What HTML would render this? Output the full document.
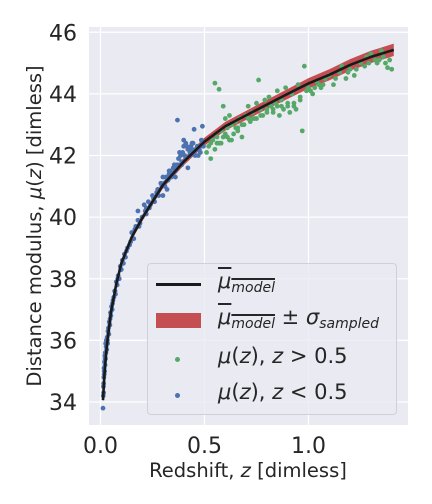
<!DOCTYPE html>
<html><head><meta charset="utf-8"><style>
body{margin:0;background:#fff;width:432px;height:504px;overflow:hidden;font-family:"Liberation Sans","DejaVu Sans",sans-serif;}
#wrap{position:relative;width:432px;height:504px;}
.lg{position:absolute;left:147px;top:263px;width:250px;height:152px;border:1px solid #d0d0d8;border-radius:4px;background:rgba(234,234,242,0.8);box-sizing:border-box;}
.lt{position:absolute;left:70px;font-size:21px;color:#262626;font-family:"DejaVu Sans",sans-serif;white-space:nowrap;}
.ov{text-decoration:overline;font-style:italic;}
i{font-style:italic;}
sub{font-size:14px;font-style:italic;vertical-align:-4px;}
</style></head><body><div id="wrap">
<svg id="svg" width="432" height="504" style="position:absolute;left:0;top:0"></svg>
<div class="lg">
 <div style="position:absolute;left:8px;top:19px;width:45px;height:3px;background:#1a1a1a"></div>
 <div class="lt" style="top:5px"><span class="ov">μ<sub>model</sub></span></div>
 <div style="position:absolute;left:8px;top:49px;width:45px;height:15px;background:#c44e52"></div>
 <div class="lt" style="top:41px"><span class="ov">μ<sub>model</sub></span> ± <i>σ</i><sub>sampled</sub></div>
 <div style="position:absolute;left:27px;top:93px;width:5px;height:5px;border-radius:50%;background:#55a868"></div>
 <div class="lt" style="top:80px"><i>μ</i>(<i>z</i>), <i>z</i> &gt; 0.5</div>
 <div style="position:absolute;left:27px;top:129px;width:5px;height:5px;border-radius:50%;background:#4c72b0"></div>
 <div class="lt" style="top:116px"><i>μ</i>(<i>z</i>), <i>z</i> &lt; 0.5</div>
</div>
</div>
<script>
const xTicks=[0.0,0.5,1.0];
const xTickLabels=["0.0","0.5","1.0"];
const yTicks=[34,36,38,40,42,44,46];
const yTickLabels=["34","36","38","40","42","44","46"];
const modelZ=[0.012,0.02,0.03,0.05,0.075,0.1,0.15,0.2,0.3,0.4,0.5,0.6,0.75,0.9,1.0,1.1,1.2,1.3,1.41];
const modelMu=[34.06,35.0,35.8,36.9,37.8,38.5,39.35,39.96,41.04,41.8,42.45,42.95,43.48,44.0,44.34,44.62,44.94,45.2,45.43];
const modelSigma=[0.08,0.08,0.08,0.09,0.09,0.1,0.1,0.1,0.11,0.12,0.13,0.14,0.15,0.16,0.17,0.18,0.19,0.2,0.2];
const lowZ=[0.012,0.013,0.014,0.015,0.016,0.017,0.018,0.019,0.02,0.021,0.022,0.023,0.024,0.025,0.026,0.028,0.03,0.032,0.034,0.036,0.038,0.04,0.042,0.045,0.048,0.05,0.053,0.056,0.06,0.064,0.068,0.072,0.076,0.08,0.085,0.09,0.095,0.1,0.105,0.11,0.115,0.12,0.13,0.14,0.15,0.16,0.17,0.18,0.19,0.2,0.21,0.22,0.23,0.24,0.25,0.26,0.27,0.28,0.29,0.3,0.31,0.32,0.33,0.34,0.35,0.36,0.37,0.38,0.39,0.4,0.41,0.42,0.43,0.44,0.45,0.46,0.47,0.48,0.49,0.37,0.45,0.49,0.4,0.42,0.3,0.33,0.22,0.18,0.44,0.47,
0.015,0.018,0.022,0.027,0.033,0.039,0.046,0.058,0.07,0.083,0.097,0.125,0.145,0.165,0.185,0.215,0.235,0.255,0.275,0.295,0.305,0.315,0.325,0.335,0.345,0.355,0.365,0.375,0.385,0.395,0.405,0.415,0.425,0.435,0.445,0.455,0.465,0.475,0.485,0.495,0.41,0.43,0.39,0.36,0.32];
const lowMu=[33.8,34.2,34.5,34.3,34.8,35.1,34.9,35.3,35.0,35.5,35.2,35.6,35.4,35.9,35.6,36.0,35.7,36.1,35.9,36.3,36.4,36.2,36.6,36.5,36.9,36.8,37.1,37.0,37.3,37.4,37.6,37.5,37.9,37.8,38.1,38.0,38.4,38.3,38.6,38.5,38.8,38.7,39.0,39.1,39.5,39.3,39.7,40.2,39.8,40.0,40.4,40.1,40.5,40.4,40.7,40.5,40.8,40.7,41.1,41.3,41.0,41.2,41.4,41.3,41.6,41.5,41.7,42.1,41.8,42.3,41.9,42.2,42.0,42.4,42.1,42.2,42.3,42.1,42.4,43.15,42.85,42.95,42.5,41.6,40.7,41.5,40.3,39.9,42.2,42.0,
34.6,35.0,35.4,35.8,36.0,36.2,36.7,37.2,37.6,38.0,38.3,38.9,39.2,39.6,39.7,40.2,40.3,40.6,40.9,41.0,41.1,41.3,41.2,41.5,41.4,41.7,41.6,41.9,42.0,42.1,42.0,42.3,42.2,42.3,42.4,42.0,42.3,42.2,42.5,42.3,42.4,42.1,41.7,41.3,40.9];
const highZ=[0.51,0.52,0.53,0.54,0.55,0.55,0.56,0.57,0.57,0.58,0.59,0.6,0.6,0.61,0.62,0.63,0.64,0.65,0.66,0.67,0.68,0.69,0.7,0.71,0.72,0.73,0.74,0.75,0.76,0.77,0.78,0.79,0.8,0.81,0.82,0.83,0.84,0.85,0.86,0.87,0.88,0.89,0.9,0.91,0.92,0.93,0.94,0.95,0.96,0.97,0.98,0.99,1.0,1.02,1.04,1.06,1.08,1.1,1.12,1.15,1.18,1.2,1.22,1.25,1.27,1.3,1.32,1.35,1.37,1.38,1.4,0.75,0.65,0.85,1.05,1.28,1.33,1.16,0.58,0.62,
0.53,0.56,0.59,0.61,0.63,0.66,0.68,0.71,0.73,0.77,0.8,0.83,0.87,0.9,0.93,0.96,1.01,1.03,1.07,1.13,1.19,1.23,1.29,1.34,1.36,1.39];
const highMu=[42.1,42.3,41.9,42.5,42.2,44.35,42.6,42.4,44.15,42.8,43.6,42.7,43.2,42.9,42.5,43.0,42.7,43.1,42.8,43.2,42.6,43.0,43.3,43.6,43.1,43.4,43.2,43.7,44.45,43.5,43.3,43.8,43.5,43.9,43.6,43.4,43.7,44.1,43.3,43.8,43.5,44.2,43.6,43.4,44.0,43.7,43.5,44.3,43.9,42.8,44.9,44.1,44.2,44.0,44.4,44.2,44.5,44.6,44.3,44.7,44.5,44.8,44.6,45.0,44.9,45.3,45.1,45.4,45.0,44.85,44.8,43.2,42.9,43.6,44.3,45.2,45.0,44.9,42.4,43.3,
42.4,42.4,42.6,42.6,42.5,42.9,43.0,43.2,43.2,43.3,43.4,43.5,43.6,43.7,43.6,43.8,44.1,44.2,44.3,44.5,44.7,44.8,45.0,45.1,45.2,45.1];

const NS='http://www.w3.org/2000/svg';
const svg=document.getElementById('svg');
const L=89,R=408,T=27,B=425;
const xs=z=>100.5+z*208;
const ys=m=>402-(m-34)*30.81;
function mk(tag,attrs,parent){const e=document.createElementNS(NS,tag);for(const k in attrs)e.setAttribute(k,attrs[k]);(parent||svg).appendChild(e);return e;}
const bg=mk('rect',{x:L,y:T,width:R-L,height:B-T,fill:'#eaeaf2'});


xTicks.forEach((t,i)=>{
 const g=mk('line',{x1:xs(t),x2:xs(t),y1:T,y2:B,stroke:'#fff','stroke-width':1.2});
 
 
 const tx=mk('text',{x:xs(t),y:453,'text-anchor':'middle','font-size':22,fill:'#262626','font-family':'DejaVu Sans, sans-serif'});
 tx.textContent=xTickLabels[i];
 
 
});
yTicks.forEach((t,i)=>{
 const g=mk('line',{x1:L,x2:R,y1:ys(t),y2:ys(t),stroke:'#fff','stroke-width':1.2});
 
 
 const tx=mk('text',{x:77,y:ys(t)+8,'text-anchor':'end','font-size':22,fill:'#262626','font-family':'DejaVu Sans, sans-serif'});
 tx.textContent=yTickLabels[i];
 
 
});
let up=modelZ.map((z,i)=>xs(z)+','+ys(modelMu[i]+modelSigma[i]));
let dn=modelZ.map((z,i)=>xs(z)+','+ys(modelMu[i]-modelSigma[i])).reverse();
const band=mk('polygon',{points:up.concat(dn).join(' '),fill:'#c44e52'});


highZ.forEach((z,i)=>{const c=mk('circle',{cx:xs(z),cy:ys(highMu[i]),r:2.4,fill:'#55a868'});
 
 });
lowZ.forEach((z,i)=>{const c=mk('circle',{cx:xs(z),cy:ys(lowMu[i]),r:2.4,fill:'#4c72b0'});
 
 });
const line=mk('polyline',{points:modelZ.map((z,i)=>xs(z)+','+ys(modelMu[i])).join(' '),fill:'none',stroke:'#1a1a1a','stroke-width':2.6,'stroke-linejoin':'round'});


const xl=mk('text',{x:248,y:477,'text-anchor':'middle','font-size':19.5,fill:'#262626','font-family':'DejaVu Sans, sans-serif'});
xl.innerHTML='Redshift, <tspan font-style="italic">z</tspan> [dimless]';


const yl=mk('text',{x:0,y:0,'text-anchor':'middle','font-size':19.5,fill:'#262626','font-family':'DejaVu Sans, sans-serif',transform:'translate(41,226) rotate(-90)'});
yl.innerHTML='Distance modulus, <tspan font-style="italic">μ</tspan>(<tspan font-style="italic">z</tspan>) [dimless]';


</script></body></html>
